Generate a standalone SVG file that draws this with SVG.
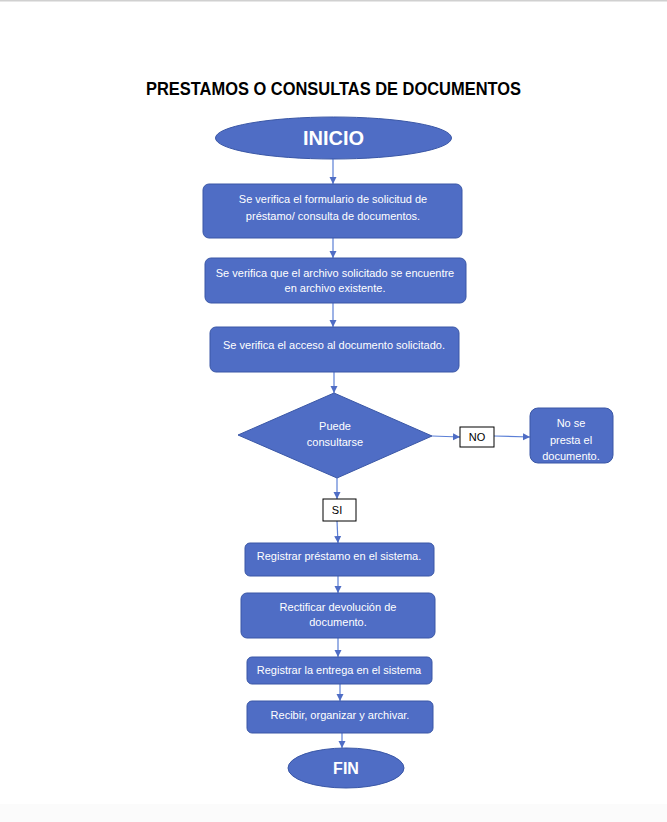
<svg xmlns="http://www.w3.org/2000/svg" width="667" height="822" viewBox="0 0 667 822">
<defs>
<style>
.box{fill:#4F6DC5;stroke:#3A57A6;stroke-width:1}
.t{font-family:"Liberation Sans",Arial,sans-serif;font-size:11px;fill:#ffffff;text-anchor:middle}
.big{font-family:"Liberation Sans",Arial,sans-serif;font-weight:bold;fill:#ffffff;text-anchor:middle}
.lbl{fill:#ffffff;stroke:#000000;stroke-width:1}
.lt{font-family:"Liberation Sans",Arial,sans-serif;font-size:11px;fill:#000000;text-anchor:middle}
.c{stroke:#5B7FD6;stroke-width:1.2;fill:none;marker-end:url(#ah)}
</style>
<marker id="ah" markerWidth="8" markerHeight="8" refX="7" refY="4" orient="auto" markerUnits="userSpaceOnUse">
<path d="M0,0.5 L7,4 L0,7.5 Z" fill="#4F6DC5"/>
</marker>
</defs>
<rect x="0" y="0" width="667" height="822" fill="#ffffff"/>
<rect x="0" y="0" width="667" height="1.5" fill="#d0d0d0"/>
<rect x="0" y="804" width="667" height="18" fill="#fbfbfb"/>
<text x="333.5" y="95" font-family="'Liberation Sans',Arial,sans-serif" font-weight="bold" font-size="18" fill="#000" text-anchor="middle" textLength="375" lengthAdjust="spacingAndGlyphs">PRESTAMOS O CONSULTAS DE DOCUMENTOS</text>

<g id="connectors">
<line class="c" x1="333" y1="159" x2="333" y2="184"/>
<line class="c" x1="333" y1="238" x2="333" y2="258"/>
<line class="c" x1="333" y1="303" x2="333" y2="327"/>
<line class="c" x1="334" y1="372" x2="334" y2="393"/>
<line class="c" x1="432" y1="436" x2="460" y2="437"/>
<line class="c" x1="494" y1="436" x2="530" y2="437"/>
<line class="c" x1="337" y1="478" x2="337" y2="499"/>
<line class="c" x1="337" y1="521" x2="338" y2="543"/>
<line class="c" x1="338" y1="576" x2="338" y2="593"/>
<line class="c" x1="338" y1="638" x2="338" y2="657"/>
<line class="c" x1="340" y1="684" x2="340" y2="701"/>
<line class="c" x1="342" y1="733" x2="342" y2="748"/>
</g>

<g id="inicio">
<ellipse class="box" cx="333.5" cy="138" rx="118" ry="21"/>
<text class="big" x="333.5" y="145" font-size="20">INICIO</text>
</g>
<g id="n1">
<rect class="box" x="203" y="184" width="259" height="54" rx="6"/>
<text class="t" x="333" y="203">Se verifica el formulario de solicitud de</text>
<text class="t" x="333" y="220">préstamo/ consulta de documentos.</text>
</g>
<g id="n2">
<rect class="box" x="205" y="258" width="261" height="45" rx="6"/>
<text class="t" x="335" y="277">Se verifica que el archivo solicitado se encuentre</text>
<text class="t" x="335" y="292">en archivo existente.</text>
</g>
<g id="n3">
<rect class="box" x="210" y="327" width="249" height="45" rx="6"/>
<text class="t" x="334" y="349">Se verifica el acceso al documento solicitado.</text>
</g>
<g id="decision">
<polygon class="box" points="334,393 432,436 337,478 238,435"/>
<text class="t" x="335" y="430">Puede</text>
<text class="t" x="335" y="446">consultarse</text>
</g>
<g id="no">
<rect class="lbl" x="460" y="427" width="34" height="20"/>
<text class="lt" x="477" y="441">NO</text>
</g>
<g id="noprest">
<rect class="box" x="530" y="408" width="83" height="55" rx="8"/>
<text class="t" x="571" y="427">No se</text>
<text class="t" x="571" y="444">presta el</text>
<text class="t" x="571" y="460">documento.</text>
</g>
<g id="si">
<rect class="lbl" x="323" y="499" width="33" height="22"/>
<text class="lt" x="337" y="514">SI</text>
</g>
<g id="n4">
<rect class="box" x="245" y="543" width="189" height="33" rx="5"/>
<text class="t" x="339" y="560">Registrar préstamo en el sistema.</text>
</g>
<g id="n5">
<rect class="box" x="241" y="593" width="194" height="45" rx="6"/>
<text class="t" x="338" y="611">Rectificar devolución de</text>
<text class="t" x="338" y="626">documento.</text>
</g>
<g id="n6">
<rect class="box" x="247" y="657" width="185" height="27" rx="5"/>
<text class="t" x="339" y="674">Registrar la entrega en el sistema</text>
</g>
<g id="n7">
<rect class="box" x="247" y="701" width="186" height="32" rx="5"/>
<text class="t" x="340" y="719">Recibir, organizar y archivar.</text>
</g>
<g id="fin">
<ellipse class="box" cx="346" cy="768" rx="58" ry="20"/>
<text class="big" x="346" y="774" font-size="16">FIN</text>
</g>
</svg>
